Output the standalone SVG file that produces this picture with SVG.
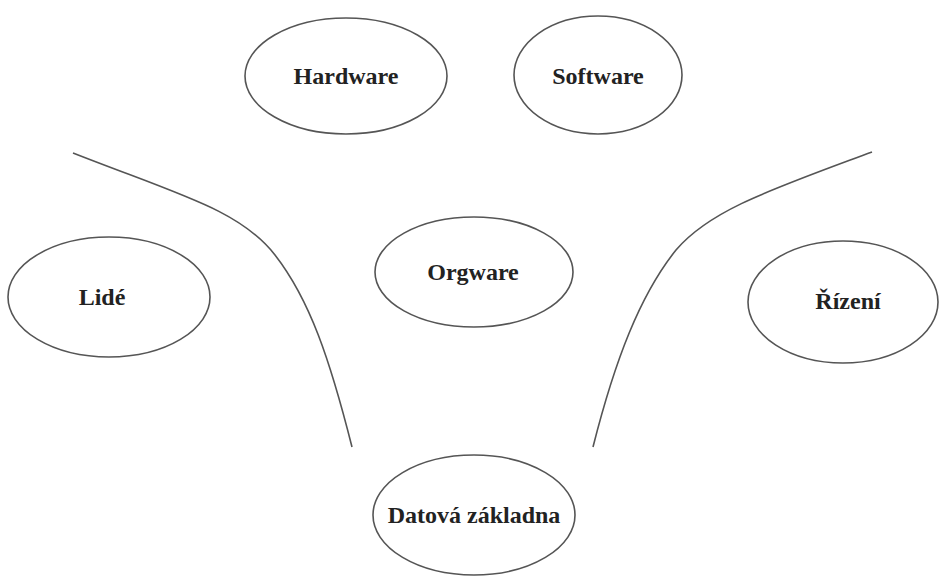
<svg xmlns="http://www.w3.org/2000/svg" width="939" height="577" viewBox="0 0 939 577">
<style>
.n ellipse{fill:#fff;stroke:#555;stroke-width:1.6}
.n text{font-family:"Liberation Serif","Times New Roman",serif;font-weight:bold;font-size:24px;fill:#222;text-anchor:middle}
.c path{fill:none;stroke:#555;stroke-width:1.6}
</style>
<rect width="939" height="577" fill="#fff"/>
<g class="c" id="connectors">
<path d="M73,153 C180,195 240,210 275,255 C310,300 330,360 352,447"/>
<path d="M872,152 C770,190 710,210 676,250 C640,295 615,360 593,447"/>
</g>
<g class="n" id="hardware"><ellipse cx="346" cy="76" rx="101" ry="58"/><text x="346" y="84">Hardware</text></g>
<g class="n" id="software"><ellipse cx="598" cy="75" rx="84" ry="59"/><text x="598" y="84">Software</text></g>
<g class="n" id="lide"><ellipse cx="109" cy="297" rx="101" ry="60"/><text x="102" y="305">Lidé</text></g>
<g class="n" id="orgware"><ellipse cx="474" cy="272" rx="99" ry="55"/><text x="473" y="280">Orgware</text></g>
<g class="n" id="rizeni"><ellipse cx="843" cy="302" rx="95" ry="61"/><text x="848" y="309">Řízení</text></g>
<g class="n" id="datova"><ellipse cx="474" cy="515" rx="101" ry="60"/><text x="474" y="523">Datová základna</text></g>
</svg>
